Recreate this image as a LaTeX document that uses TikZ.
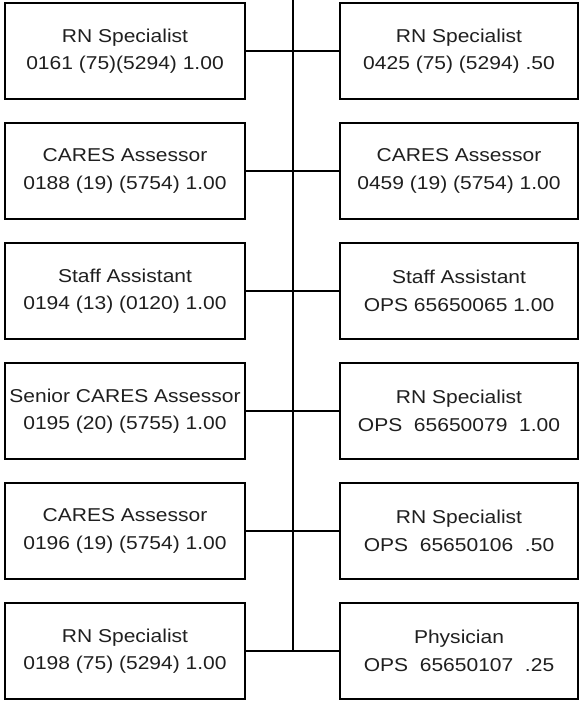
\documentclass[tikz,border=0pt]{standalone}
\usepackage{fontspec}
\setmainfont[FakeStretch=1.13]{Liberation Sans}
\begin{document}
\begin{tikzpicture}[x=1pt,y=1pt,
  posbox/.style={draw, line width=2.4pt, rectangle, minimum height=96pt,
    inner sep=0pt, align=center, text=black!88,
    font=\fontsize{18.6}{27.5}\selectfont},
  leftbox/.style={posbox, minimum width=240pt},
  rightbox/.style={posbox, minimum width=238pt},
  link/.style={line width=2pt}]
\useasboundingbox (0,0) rectangle (581,-703);

% left column
\node[leftbox] (L1) at (125,-51)  {RN Specialist\\0161 (75)(5294) 1.00};
\node[leftbox] (L2) at (125,-171) {CARES Assessor\\0188 (19) (5754) 1.00};
\node[leftbox] (L3) at (125,-291) {Staff Assistant\\0194 (13) (0120) 1.00};
\node[leftbox] (L4) at (125,-411) {Senior CARES Assessor\\0195 (20) (5755) 1.00};
\node[leftbox] (L5) at (125,-531) {CARES Assessor\\0196 (19) (5754) 1.00};
\node[leftbox] (L6) at (125,-651) {RN Specialist\\0198 (75) (5294) 1.00};

% right column
\node[rightbox] (R1) at (459,-51)  {RN Specialist\\0425 (75) (5294) .50};
\node[rightbox] (R2) at (459,-171) {CARES Assessor\\0459 (19) (5754) 1.00};
\node[rightbox] (R3) at (459,-291) {Staff Assistant\\OPS 65650065 1.00};
\node[rightbox] (R4) at (459,-411) {RN Specialist\\OPS\ \ 65650079\ \ 1.00};
\node[rightbox] (R5) at (459,-531) {RN Specialist\\OPS\ \ 65650106\ \ .50};
\node[rightbox] (R6) at (459,-651) {Physician\\OPS\ \ 65650107\ \ .25};

% trunk line and branches
\coordinate (top) at (293,0);
\coordinate (bottom) at (293,-651);
\draw[link] (top) -- (bottom);
\foreach \i in {1,...,6} {
  \draw[link] (L\i.east) -- (R\i.west);
}
\end{tikzpicture}
\end{document}
